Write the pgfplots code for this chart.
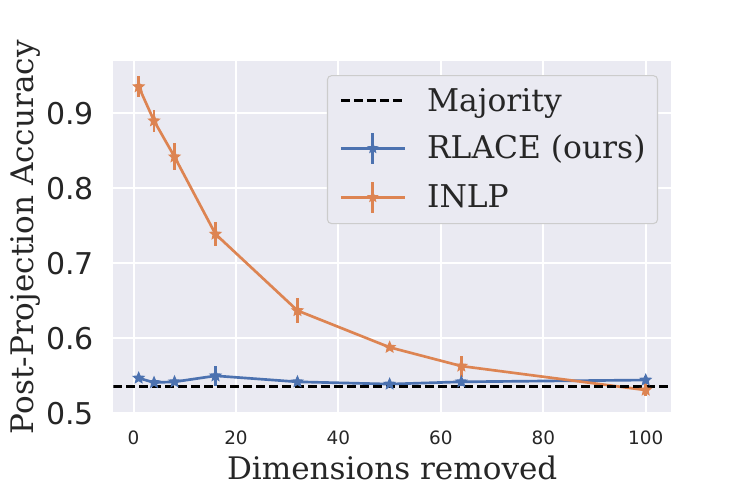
\documentclass[border=0pt]{standalone}
\usepackage{fontspec}
\setmainfont{DejaVu Serif}
\setsansfont{DejaVu Sans}
\usepackage{pgfplots}
\usepackage{pgfplotstable}
\pgfplotsset{compat=1.18}
\definecolor{sbblue}{HTML}{4C72B0}
\definecolor{sborange}{HTML}{DD8452}
\definecolor{sbbg}{HTML}{EAEAF2}
\definecolor{txt}{HTML}{262626}

\pgfdeclareplotmark{fstar}{%
  \pgfpathmoveto{\pgfpointpolar{90}{\pgfplotmarksize}}%
  \pgfpathlineto{\pgfpointpolar{126}{0.45\pgfplotmarksize}}%
  \pgfpathlineto{\pgfpointpolar{162}{\pgfplotmarksize}}%
  \pgfpathlineto{\pgfpointpolar{198}{0.45\pgfplotmarksize}}%
  \pgfpathlineto{\pgfpointpolar{234}{\pgfplotmarksize}}%
  \pgfpathlineto{\pgfpointpolar{270}{0.45\pgfplotmarksize}}%
  \pgfpathlineto{\pgfpointpolar{306}{\pgfplotmarksize}}%
  \pgfpathlineto{\pgfpointpolar{342}{0.45\pgfplotmarksize}}%
  \pgfpathlineto{\pgfpointpolar{18}{\pgfplotmarksize}}%
  \pgfpathlineto{\pgfpointpolar{54}{0.45\pgfplotmarksize}}%
  \pgfpathclose
  \pgfusepathqfillstroke}

\pgfplotstableread{
x y e
1 0.547 0.004
4 0.541 0.004
8 0.542 0.003
16 0.550 0.013
32 0.542 0.004
50 0.539 0.004
64 0.542 0.005
100 0.5444 0.005
}\rlace

\pgfplotstableread{
x y e
1 0.9355 0.014
4 0.890 0.015
8 0.842 0.018
16 0.739 0.016
32 0.637 0.017
50 0.588 0.004
64 0.563 0.014
100 0.531 0.008
}\inlp

\pgfplotsset{
  errimg/.style={legend image code/.code={
    \draw[##1, mark=none] (0pt,0pt) -- (48pt,0pt);
    \draw[##1, mark=none, solid] (24pt,-11.5pt) -- (24pt,11.5pt);
    \draw[##1, only marks, mark=fstar, mark size=3.6pt] plot coordinates {(24pt,0pt)};
  }},
  majimg/.style={legend image code/.code={
    \draw[##1] (0pt,0pt) -- (48pt,0pt);
  }},
}

\begin{document}
\begin{tikzpicture}
\path[use as bounding box] (-85pt,-63.5pt) rectangle (475.25pt,310pt);
\begin{axis}[
  at={(0,0)}, anchor=south west,
  scale only axis, width=418.3pt, height=264.2pt,
  xmin=-3.95, xmax=104.95, ymin=0.5, ymax=0.9697,
  axis background/.style={fill=sbbg},
  axis line style={draw=none},
  grid=major, major grid style={white, line width=1.5pt},
  major tick length=0pt,
  xtick={0,20,40,60,80,100},
  ytick={0.5,0.6,0.7,0.8,0.9},
  /pgf/number format/assume math mode=true,
  yticklabel style={font=\sffamily\fontsize{22.5}{26}\selectfont, text=txt, anchor=east, inner sep=0pt, xshift=-14.3pt,
    /pgf/number format/.cd, fixed, fixed zerofill, precision=1},
  xticklabel style={font=\sffamily\fontsize{13.8}{16}\selectfont, text=txt, anchor=north, inner sep=0pt, yshift=-13.3pt},
  xlabel={Dimensions removed},
  xlabel style={at={(axis description cs:0.5,-0.1874)}, anchor=base, font=\fontsize{23.3}{28}\selectfont, text=txt, inner sep=0pt},
  ylabel={Post-Projection Accuracy},
  ylabel style={at={(axis description cs:-0.1583,0.5)}, anchor=center, font=\fontsize{23.3}{28}\selectfont, text=txt, inner sep=0pt},
  legend cell align=left,
  legend style={at={(axis description cs:0.383,0.960)}, anchor=north west,
    fill=sbbg, draw=black!20, line width=0.8pt, rounded corners=3pt,
    font=\fontsize{23.5}{28}\selectfont, text=txt,
    inner xsep=9pt, inner ysep=7.25pt, column sep=15.75pt, row sep=11.7pt,
    nodes={inner sep=0pt, text height=19.25pt, text depth=3.75pt}},
]
\addlegendimage{black, line width=2pt, dash pattern=on 6.75pt off 3pt, majimg}
\addlegendentry{Majority}
\addlegendimage{sbblue, line width=2pt, mark=fstar, mark options={solid, fill=sbblue, line width=0.8pt}, errimg}
\addlegendentry{RLACE (ours)}
\addlegendimage{sborange, line width=2pt, mark=fstar, mark options={solid, fill=sborange, line width=0.8pt}, errimg}
\addlegendentry{INLP}

\addplot[forget plot, sbblue, line width=2pt, mark=fstar, mark size=4.2pt, mark options={fill=sbblue, line width=0.8pt},
  error bars/.cd, y dir=both, y explicit, error mark=none, error bar style={line width=2pt}]
  table[x=x, y=y, y error=e] {\rlace};
\addplot[forget plot, sborange, line width=2pt, mark=fstar, mark size=4.2pt, mark options={fill=sborange, line width=0.8pt},
  error bars/.cd, y dir=both, y explicit, error mark=none, error bar style={line width=2pt}]
  table[x=x, y=y, y error=e] {\inlp};
\addplot[forget plot, black, line width=2pt, dash pattern=on 6.75pt off 3pt] coordinates {(-3.95,0.536) (104.95,0.536)};
\end{axis}
\end{tikzpicture}
\end{document}
